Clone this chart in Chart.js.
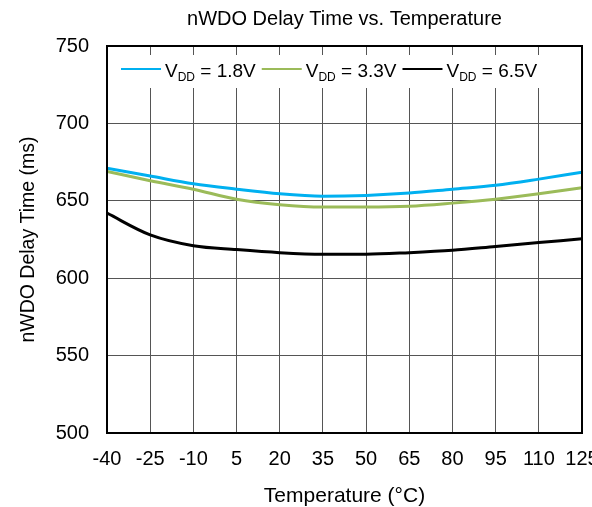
<!DOCTYPE html>
<html>
<head>
<meta charset="utf-8">
<script src="https://cdn.jsdelivr.net/npm/chart.js@4.4.0/dist/chart.umd.min.js"></script>
<style>
    html, body { margin: 0; padding: 0; background: #fff; }
    #wrap { width: 592px; height: 507px; }
</style>
</head>
<body>
<div id="wrap"><canvas id="chart"></canvas></div>
<script>
// Temperature points (°C)
const temps = [-40, -25, -10, 5, 20, 35, 50, 65, 80, 95, 110, 125];

// Delay time (ms) per supply voltage
const vdd18 = [671, 666, 661, 657.5, 654.5, 653, 653.5, 655, 657.5, 660, 664, 668.5];
const vdd33 = [669, 663, 657.5, 651, 647.5, 646, 646, 646.5, 648.5, 651, 654.5, 658.5];
const vdd65 = [642, 628, 621, 618.5, 616.5, 615.5, 615.5, 616.5, 618, 620.5, 623, 625.5];

const seriesNames = ['1.8V', '3.3V', '6.5V'];
const seriesColors = ['#00B0F0', '#9BBB59', '#000000'];

const chartTitle = 'nWDO Delay Time vs. Temperature';
const FONT = '"Liberation Sans", Arial, sans-serif';

function toPoints(values) {
    return values.map((v, i) => ({ x: temps[i], y: v }));
}

// Title centred over the plot, legend with V_DD subscript on a white box, and the frame
const frameLegend = {
    id: 'frameLegend',
    afterDraw(chart) {
        const ctx = chart.ctx;
        const a = chart.chartArea;
        ctx.save();

        ctx.fillStyle = '#000';
        ctx.textAlign = 'center';
        ctx.textBaseline = 'middle';
        ctx.font = '20px ' + FONT;
        ctx.fillText(chartTitle, (a.left + a.right) / 2, 19);

        ctx.fillStyle = '#fff';
        ctx.fillRect(a.left + 1, a.top + 9, a.right - a.left - 2, 33);

        let x = a.left + 14;
        const y = a.top + 23;
        ctx.textAlign = 'left';
        ctx.textBaseline = 'alphabetic';
        chart.data.datasets.forEach((ds, i) => {
            ctx.strokeStyle = ds.borderColor;
            ctx.lineWidth = 2;
            ctx.beginPath();
            ctx.moveTo(x, y);
            ctx.lineTo(x + 40, y);
            ctx.stroke();
            x += 44;
            ctx.fillStyle = '#000';
            ctx.font = '19px ' + FONT;
            ctx.fillText('V', x, y + 8);
            x += ctx.measureText('V').width;
            ctx.font = '12px ' + FONT;
            ctx.fillText('DD', x, y + 12);
            x += ctx.measureText('DD').width;
            ctx.font = '19px ' + FONT;
            const t = ' = ' + seriesNames[i];
            ctx.fillText(t, x, y + 8);
            x += ctx.measureText(t).width + 6;
        });

        ctx.strokeStyle = '#000';
        ctx.lineWidth = 2;
        ctx.strokeRect(a.left, a.top, a.right - a.left, a.bottom - a.top);
        ctx.restore();
    }
};

const ctx = document.getElementById('chart').getContext('2d');
new Chart(ctx, {
    type: 'line',
    data: {
        datasets: [vdd18, vdd33, vdd65].map((vals, i) => ({
            label: 'VDD = ' + seriesNames[i],
            data: toPoints(vals),
            borderColor: seriesColors[i],
            backgroundColor: seriesColors[i],
            borderWidth: 3,
            pointRadius: 0,
            cubicInterpolationMode: 'monotone',
            fill: false
        }))
    },
    options: {
        responsive: true,
        maintainAspectRatio: false,
        animation: false,
        layout: { padding: { left: 0, right: 10, top: 46, bottom: 0 } },
        plugins: {
            legend: { display: false },
            tooltip: { enabled: false },
            title: { display: false }
        },
        scales: {
            x: {
                type: 'linear',
                min: -40,
                max: 125,
                afterBuildTicks: (scale) => {
                    scale.ticks = temps.map(v => ({ value: v }));
                },
                afterFit: (scale) => {
                    scale.height = 74;
                    scale.paddingLeft = 0;
                    scale.paddingRight = 0;
                },
                grid: { color: '#555', lineWidth: 1, drawTicks: false },
                border: { display: false },
                ticks: {
                    color: '#000',
                    font: { family: FONT, size: 20 },
                    padding: 14,
                    maxRotation: 0,
                    autoSkip: false
                },
                title: {
                    display: true,
                    text: 'Temperature (°C)',
                    color: '#000',
                    font: { family: FONT, size: 21, lineHeight: 1 },
                    padding: { top: 0, bottom: 0 }
                }
            },
            y: {
                min: 500,
                max: 750,
                afterFit: (scale) => {
                    scale.width = 107;
                    scale.paddingTop = 0;
                    scale.paddingBottom = 0;
                },
                grid: { color: '#555', lineWidth: 1, drawTicks: false },
                border: { display: false },
                ticks: {
                    color: '#000',
                    stepSize: 50,
                    font: { family: FONT, size: 20 },
                    padding: 18
                },
                title: {
                    display: true,
                    text: 'nWDO Delay Time (ms)',
                    color: '#000',
                    font: { family: FONT, size: 19.5, lineHeight: 1 },
                    padding: { top: 19, bottom: 0 }
                }
            }
        }
    },
    plugins: [frameLegend]
});
</script>
</body>
</html>
